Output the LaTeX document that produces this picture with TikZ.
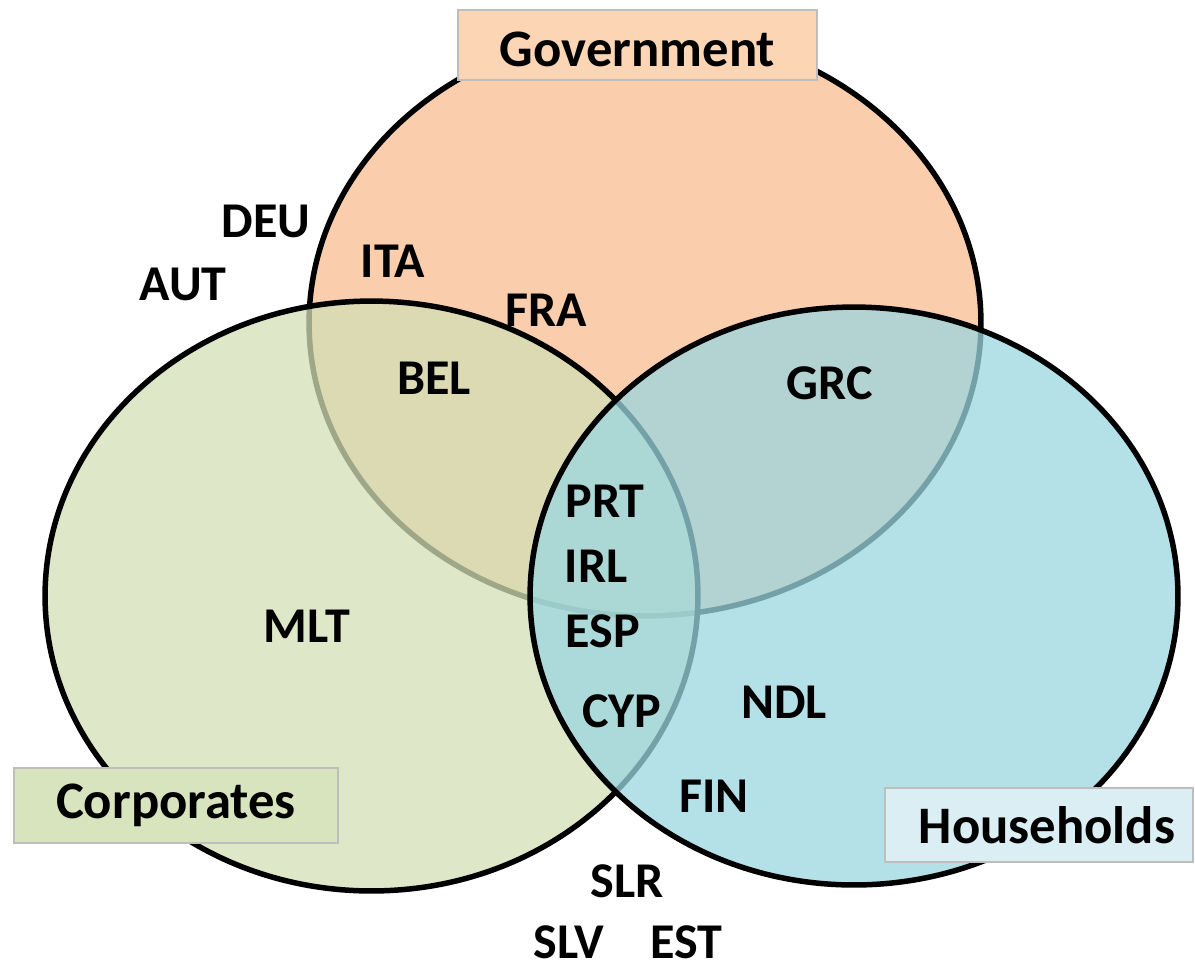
\documentclass[tikz,border=0pt]{standalone}
\usepackage{fontspec}
\setmainfont{Carlito}

\definecolor{govfill}{RGB}{248,188,144}
\definecolor{corpfill}{RGB}{211,224,182}
\definecolor{hhfill}{RGB}{155,214,224}
\definecolor{govbox}{RGB}{252,213,181}
\definecolor{corpbox}{RGB}{215,228,189}
\definecolor{hhbox}{RGB}{218,238,243}
\definecolor{boxline}{RGB}{190,190,190}

\begin{document}
\begin{tikzpicture}[x=0.02cm, y=-0.02cm,
    blob/.style={draw=black, line width=0.11cm, fill opacity=0.75},
    sector/.style={rectangle, draw=boxline, line width=0.04cm, font=\fontsize{30}{36}\selectfont\bfseries},
    country/.style={anchor=base, inner sep=0pt, font=\fontsize{28.5}{34}\selectfont\bfseries}]
    \useasboundingbox (0,0) rectangle (1195,964);

    % the three sets
    \draw[blob, fill=govfill] (645,323) ellipse [x radius=6.72cm, y radius=5.86cm];
    \draw[blob, fill=corpfill] (371.5,596) ellipse [x radius=6.53cm, y radius=5.9cm];
    \draw[blob, fill=hhfill] (854,596) ellipse [x radius=6.48cm, y radius=5.78cm];

    \node[sector, fill=govbox, minimum width=7.18cm, minimum height=1.4cm, text height=0.88cm] (gov) at (637.5,45) {Government};
    \node[sector, fill=corpbox, minimum width=6.5cm, minimum height=1.5cm] (corp) at (176,805.5) {Corporates};
    \node[sector, fill=hhbox, minimum width=6.16cm, minimum height=1.48cm] (hh) at (1039,825) {\hspace{0.32cm}Households};

    \node[country] (deu) at (266,237) {DEU};
    \node[country] (aut) at (183,300) {AUT};
    \node[country] (ita) at (393,277) {ITA};
    \node[country] (fra) at (546,326) {FRA};
    \node[country] (bel) at (434,394) {BEL};
    \node[country] (grc) at (830,399) {GRC};
    \node[country] (prt) at (605,517) {PRT};
    \node[country] (irl) at (596,582) {IRL};
    \node[country] (mlt) at (307,642) {MLT};
    \node[country] (esp) at (603,647) {ESP};
    \node[country] (ndl) at (784,718) {NDL};
    \node[country] (cyp) at (622,727) {CYP};
    \node[country] (fin) at (714,812) {FIN};
    \node[country] (slr) at (627,897) {SLR};
    \node[country] (slv) at (569,958) {SLV};
    \node[country] (est) at (686,958) {EST};
\end{tikzpicture}
\end{document}
